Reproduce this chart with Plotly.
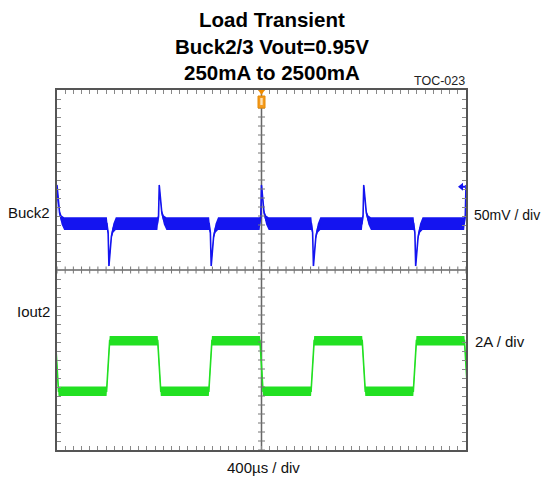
import plotly.graph_objects as go

# ---------------- data ----------------
time_div_us = 400          # 400 µs / div
n_xdiv = 10
n_ydiv = 8
v_per_div_mv = 50          # Buck2: 50 mV / div
i_per_div_a = 2            # Iout2: 2 A / div

# load-step times (µs)
rise_times_us = [500, 1500, 2500, 3500]         # 250 mA -> 2500 mA
fall_times_us = [0, 1000, 2000, 3000, 4000]     # 2500 mA -> 250 mA

# Iout2 levels (A) and ripple half band (A)
i_low_a = 0.25
i_high_a = 2.5
i_band_a = 0.21
i_edge_us = 30

# Buck2 undershoot (on load rise) profile: time offset (µs) / deviation (mV) / half band (mV)
under_dt_us = [-12, 0, 8, 18, 32, 50, 75]
under_mv = [0, -10, -47, -30, -14, -5, 0]
under_band_mv = [7, 2, 1.5, 2, 3, 5, 7]
# Buck2 overshoot (on load release) profile
over_dt_us = [-18, -7, 0, 10, 25, 45, 70]
over_mv = [0, 8, 43, 27, 12, 4, 0]
over_band_mv = [7, 2, 1.5, 2, 3, 5, 7]

# screen offsets (divisions from bottom) of each channel's zero
buck2_zero_div = 5.03
iout2_zero_div = 1.18
buck2_marker_mv = 41

# ---------------- build traces ----------------
t_end = time_div_us * n_xdiv

def buck2_envelope():
    events = sorted([(t, 'r') for t in rise_times_us] + [(t, 'f') for t in fall_times_us])
    xs, c, up, lo = [], [], [], []
    for t, kind in events:
        dts, mvs, bands = (under_dt_us, under_mv, under_band_mv) if kind == 'r' else (over_dt_us, over_mv, over_band_mv)
        for dt, mv, b in zip(dts, mvs, bands):
            xs.append(t + dt); c.append(mv); up.append(mv + b); lo.append(mv - b)
    conv = lambda v: buck2_zero_div + v / v_per_div_mv
    return xs, [conv(v) for v in c], [conv(v) for v in up], [conv(v) for v in lo]

def iout2_envelope():
    events = sorted([(t, 'r') for t in rise_times_us] + [(t, 'f') for t in fall_times_us])
    xs, c = [], []
    for t, kind in events:
        a, b = (i_low_a, i_high_a) if kind == 'r' else (i_high_a, i_low_a)
        xs += [t - i_edge_us / 2, t + i_edge_us / 2]
        c += [a, b]
    conv = lambda v: iout2_zero_div + v / i_per_div_a
    return xs, [conv(v) for v in c], [conv(v + i_band_a) for v in c], [conv(v - i_band_a) for v in c]

blue = '#1414f0'
green = '#22e022'

fig = go.Figure()
bx, bc, bu, bl = buck2_envelope()
gx, gc, gu, gl = iout2_envelope()
for xs, c, u, l, col in [(bx, bc, bu, bl, blue), (gx, gc, gu, gl, green)]:
    fig.add_trace(go.Scatter(x=xs, y=l, mode='lines', line=dict(width=0, color=col), showlegend=False, hoverinfo='skip'))
    fig.add_trace(go.Scatter(x=xs, y=u, mode='lines', line=dict(width=0, color=col), fill='tonexty', fillcolor=col, showlegend=False, hoverinfo='skip'))
    fig.add_trace(go.Scatter(x=xs, y=c, mode='lines', line=dict(width=1.6, color=col), showlegend=False, hoverinfo='skip'))

# ---------------- crosshair with minor ticks ----------------
W, H = 544, 482
ml, mr, mt, mb = 57, 78, 90, 32
pw, ph = W - ml - mr, H - mt - mb
x_px = t_end / pw
y_px = n_ydiv / ph
xc, yc = t_end / 2, n_ydiv / 2
tx, ty = [], []
for k in range(n_xdiv * 5 + 1):
    x = k * time_div_us / 5
    tx += [x, x, None]; ty += [yc - 3.5 * y_px, yc + 3.5 * y_px, None]
for k in range(n_ydiv * 5 + 1):
    y = k / 5
    tx += [xc - 3.5 * x_px, xc + 3.5 * x_px, None]; ty += [y, y, None]
fig.add_trace(go.Scatter(x=tx, y=ty, mode='lines', line=dict(width=1, color='#777'), showlegend=False, hoverinfo='skip'))

shapes = [
    dict(type='line', xref='x', yref='y', x0=xc, x1=xc, y0=0, y1=n_ydiv, line=dict(color='#666', width=1.5), layer='below'),
    dict(type='line', xref='x', yref='y', x0=0, x1=t_end, y0=yc, y1=yc, line=dict(color='#666', width=1.5), layer='below'),
    # trigger marker (orange)
    dict(type='path', xref='x', yref='y', xsizemode='pixel', ysizemode='pixel', xanchor=xc, yanchor=n_ydiv,
         path='M -4 1 L 4 1 L 0 -5 Z', fillcolor='#f08c00', line=dict(width=0)),
    dict(type='rect', xref='x', yref='y', xsizemode='pixel', ysizemode='pixel', xanchor=xc, yanchor=n_ydiv,
         x0=-3.5, x1=3.5, y0=-6, y1=-18, fillcolor='#f39a1e', line=dict(color='#e88a00', width=1)),
    dict(type='rect', xref='x', yref='y', xsizemode='pixel', ysizemode='pixel', xanchor=xc, yanchor=n_ydiv,
         x0=-1.2, x1=1.2, y0=-8, y1=-15, fillcolor='#fde3b8', line=dict(width=0)),
    # Buck2 level marker at right
    dict(type='path', xref='x', yref='y', xsizemode='pixel', ysizemode='pixel', xanchor=t_end, yanchor=buck2_zero_div + buck2_marker_mv / v_per_div_mv,
         path='M -8 0 L -3 4 L -3 -4 Z', fillcolor=blue, line=dict(width=0)),
    dict(type='line', xref='x', yref='y', xsizemode='pixel', ysizemode='pixel', xanchor=t_end, yanchor=buck2_zero_div + buck2_marker_mv / v_per_div_mv,
         x0=-3, x1=-1, y0=0, y1=0, line=dict(color=blue, width=2)),
    # small cursor mark on top border
    dict(type='rect', xref='x', yref='y', xsizemode='pixel', ysizemode='pixel', xanchor=3500, yanchor=n_ydiv,
         x0=-2, x1=2, y0=0, y1=3, fillcolor='#222', line=dict(width=0)),
]

sans = 'Liberation Sans, Arial'
def py(p):  # pixel row from top -> paper y
    return (H - mb - p) / ph
def px(p):
    return (p - ml) / pw

ann = []
for txt, row in [('Load Transient', 19), ('Buck2/3 Vout=0.95V', 46), ('250mA to 2500mA', 73)]:
    ann.append(dict(text='<b>%s</b>' % txt, x=px(272), y=py(row), xref='paper', yref='paper', xanchor='center', yanchor='middle',
                    showarrow=False, font=dict(family=sans, size=20.5, color='#000')))
ann.append(dict(text='TOC-023', x=px(467), y=py(81), xref='paper', yref='paper', xanchor='right', yanchor='middle',
                showarrow=False, font=dict(family=sans, size=12.5, color='#222')))
lab = dict(family=sans, size=15, color='#111')
ann.append(dict(text='Buck2', x=px(52), y=py(212), xref='paper', yref='paper', xanchor='right', yanchor='middle', showarrow=False, font=lab))
ann.append(dict(text='Iout2', x=px(52), y=py(311), xref='paper', yref='paper', xanchor='right', yanchor='middle', showarrow=False, font=lab))
ann.append(dict(text='50mV / div', x=px(472), y=py(215), xref='paper', yref='paper', xanchor='left', yanchor='middle', showarrow=False,
                font=dict(family=sans, size=14, color='#111')))
ann.append(dict(text='2A / div', x=px(473), y=py(341), xref='paper', yref='paper', xanchor='left', yanchor='middle', showarrow=False, font=lab))
ann.append(dict(text='400µs / div', x=px(263), y=py(467), xref='paper', yref='paper', xanchor='center', yanchor='middle', showarrow=False, font=lab))

axis_common = dict(showline=True, linecolor='#555', linewidth=2, mirror='ticks', ticks='inside', ticklen=4,
                   tickcolor='#888', tickwidth=1, showticklabels=False, zeroline=False, showgrid=False, fixedrange=True)
fig.update_layout(
    width=W, height=H, margin=dict(l=ml, r=mr, t=mt, b=mb, autoexpand=False),
    paper_bgcolor='white', plot_bgcolor='white', showlegend=False,
    xaxis=dict(range=[0, t_end], tick0=0, dtick=time_div_us / 5,
               minor=dict(showgrid=True, dtick=time_div_us, tick0=0, gridcolor='#aaa', griddash='1.5px,6.7px', ticks=''),
               **axis_common),
    yaxis=dict(range=[0, n_ydiv], tick0=0, dtick=0.2,
               minor=dict(showgrid=True, dtick=1, tick0=0, gridcolor='#aaa', griddash='1.5px,6.7px', ticks=''),
               **axis_common),
    shapes=shapes, annotations=ann,
)
fig.write_html('out.html', config={'displayModeBar': False},
               post_script="document.body.style.margin='0';document.body.style.overflow='hidden';")
